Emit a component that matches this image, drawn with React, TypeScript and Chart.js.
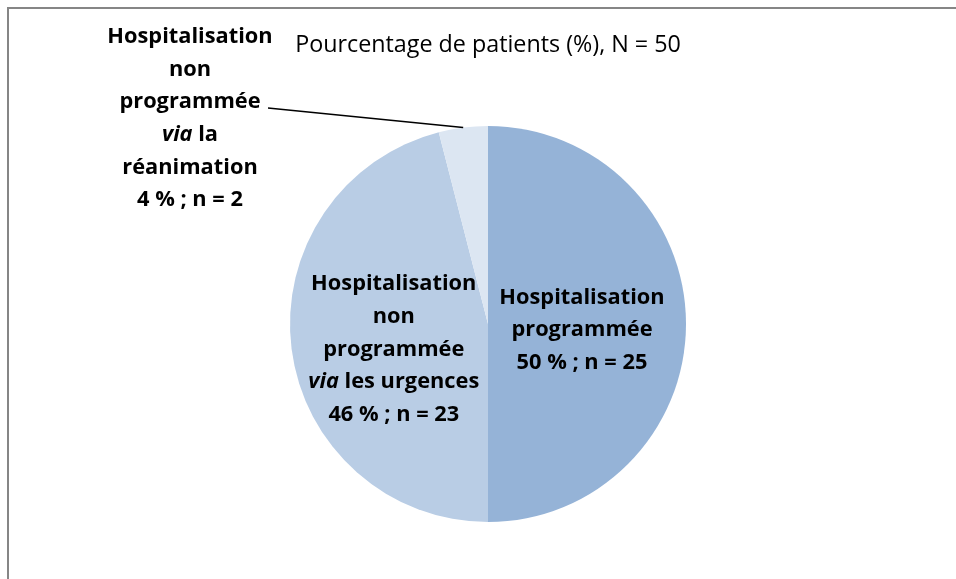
import React, { useEffect, useRef } from "react";
import { Chart, registerables } from "chart.js";

Chart.register(...registerables);

const titleText = "Pourcentage de patients (%), N = 50";
const categories = [
  "Hospitalisation programmée",
  "Hospitalisation non programmée via les urgences",
  "Hospitalisation non programmée via la réanimation",
];
const counts = [25, 23, 2];
const percents = [50, 46, 4];
const colors = ["#95B3D7", "#B9CDE5", "#DCE6F2"];

// label lines per slice; segments [text, italic]
const labelLines: [string, boolean][][][] = [
  [[["Hospitalisation", false]], [["programmée", false]]],
  [
    [["Hospitalisation", false]],
    [["non", false]],
    [["programmée", false]],
    [["via", true], [" les urgences", false]],
  ],
  [
    [["Hospitalisation", false]],
    [["non", false]],
    [["programmée", false]],
    [["via", true], [" la", false]],
    [["réanimation", false]],
  ],
];

const FONT = "'Open Sans', 'Liberation Sans', sans-serif";
const LABEL_SIZE = 21.8;
const TITLE_SIZE = 23.3;
const LINE_H = 32.6;

const labelPlugin = {
  id: "customLabels",
  afterDraw(chart: any) {
    const ctx = chart.ctx as CanvasRenderingContext2D;
    const meta = chart.getDatasetMeta(0);
    ctx.save();
    // frame
    ctx.strokeStyle = "#868686";
    ctx.lineWidth = 2;
    ctx.beginPath();
    ctx.moveTo(8, 579);
    ctx.lineTo(8, 8);
    ctx.lineTo(956, 8);
    ctx.stroke();

    // title
    ctx.fillStyle = "#000";
    ctx.font = `${TITLE_SIZE}px ${FONT}`;
    ctx.textAlign = "center";
    ctx.textBaseline = "middle";
    const a0 = meta.data[0];
    ctx.fillText(titleText, a0.x, 45);

    const drawLine = (segs: [string, boolean][], cx: number, cy: number) => {
      let total = 0;
      const widths = segs.map(([t, it]) => {
        ctx.font = `${it ? "italic " : ""}bold ${LABEL_SIZE}px ${FONT}`;
        const w = ctx.measureText(t).width;
        total += w;
        return w;
      });
      let x = cx - total / 2;
      ctx.textAlign = "left";
      segs.forEach(([t, it], k) => {
        ctx.font = `${it ? "italic " : ""}bold ${LABEL_SIZE}px ${FONT}`;
        ctx.fillText(t, x, cy);
        x += widths[k];
      });
    };

    const offsets = [
      [-5, 6],
      [4, 13],
    ];
    meta.data.forEach((arc: any, i: number) => {
      const lines = [
        ...labelLines[i],
        [[`${percents[i]} % ; n = ${counts[i]}`, false]] as [string, boolean][],
      ];
      const n = lines.length;
      let cx: number, cy: number;
      if (i < 2) {
        const p = arc.tooltipPosition();
        cx = p.x + offsets[i][0];
        cy = p.y + offsets[i][1];
      } else {
        cx = 190;
        cy = 118.5;
        const mid = (arc.startAngle + arc.endAngle) / 2;
        const ex = arc.x + Math.cos(mid) * arc.outerRadius;
        const ey = arc.y + Math.sin(mid) * arc.outerRadius;
        ctx.strokeStyle = "#000";
        ctx.lineWidth = 1.5;
        ctx.beginPath();
        ctx.moveTo(268, 108);
        ctx.lineTo(ex, ey);
        ctx.stroke();
      }
      ctx.fillStyle = "#000";
      lines.forEach((segs, k) => {
        drawLine(segs, cx, cy + (k - (n - 1) / 2) * LINE_H);
      });
    });
    ctx.restore();
  },
};

export default function App() {
  const ref = useRef<HTMLCanvasElement>(null);
  useEffect(() => {
    const chart = new Chart(ref.current!, {
      type: "pie",
      data: {
        labels: categories,
        datasets: [
          {
            data: percents,
            backgroundColor: colors,
            borderWidth: 0,
          },
        ],
      },
      options: {
        responsive: false,
        animation: false,
        layout: { padding: { left: 290, right: 270, top: 126, bottom: 57 } },
        plugins: {
          legend: { display: false },
          tooltip: { enabled: false },
          title: { display: false },
        },
      },
      plugins: [labelPlugin],
    });
    return () => chart.destroy();
  }, []);
  return (
    <div style={{ position: "absolute", left: 0, top: 0, width: 956, height: 579, background: "#fff" }}>
      <canvas ref={ref} width={956} height={579} style={{ display: "block" }} />
    </div>
  );
}
